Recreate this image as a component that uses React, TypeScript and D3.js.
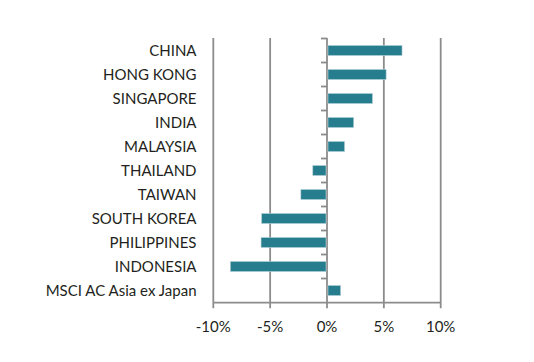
import React, { useRef, useEffect } from 'react';
import * as d3 from 'd3';

const categories = [
  'CHINA',
  'HONG KONG',
  'SINGAPORE',
  'INDIA',
  'MALAYSIA',
  'THAILAND',
  'TAIWAN',
  'SOUTH KOREA',
  'PHILIPPINES',
  'INDONESIA',
  'MSCI AC Asia ex Japan',
];

const returns = [6.6, 5.2, 4.0, 2.35, 1.55, -1.25, -2.3, -5.75, -5.8, -8.5, 1.2];

const xTicks = [-10, -5, 0, 5, 10];

const width = 534;
const height = 362;

const App: React.FC = () => {
  const svgRef = useRef<SVGSVGElement>(null);

  useEffect(() => {
    if (!svgRef.current) return;
    const svg = d3.select(svgRef.current);
    svg.selectAll('*').remove();

    const x = d3.scaleLinear().domain([-10, 10]).range([213.3, 440.7]);
    const y = d3.scaleBand<string>().domain(categories).range([38.5, 302.5]).paddingInner(0.58).paddingOuter(0.29);
    const band = d3.scaleBand<string>().domain(categories).range([38.5, 302.5]);

    const font = "Lato, 'Open Sans', sans-serif";
    const gridColor = '#8c8c8c';
    const axisY = 302.7;

    // vertical grid lines
    svg.append('g')
      .selectAll('line')
      .data(xTicks.filter(t => t !== 0))
      .enter().append('line')
      .attr('x1', d => x(d)).attr('x2', d => x(d))
      .attr('y1', 38).attr('y2', axisY + 5.5)
      .attr('stroke', gridColor)
      .attr('stroke-width', 1.8);

    // zero line + category separator ticks
    svg.append('line')
      .attr('x1', x(0)).attr('x2', x(0))
      .attr('y1', 38).attr('y2', axisY + 5.5)
      .attr('stroke', gridColor)
      .attr('stroke-width', 1.8);

    svg.append('g')
      .selectAll('line')
      .data(categories)
      .enter().append('line')
      .attr('x1', x(0) - 6).attr('x2', x(0))
      .attr('y1', d => band(d) as number).attr('y2', d => band(d) as number)
      .attr('stroke', gridColor)
      .attr('stroke-width', 1.8);

    // x axis line
    svg.append('line')
      .attr('x1', x(-10)).attr('x2', x(10))
      .attr('y1', axisY).attr('y2', axisY)
      .attr('stroke', gridColor)
      .attr('stroke-width', 1.8);

    // bars
    svg.append('g')
      .selectAll('rect')
      .data(categories)
      .enter().append('rect')
      .attr('x', (d, i) => Math.min(x(0), x(returns[i])) + (returns[i] > 0 ? 1 : 0))
      .attr('y', d => y(d) as number)
      .attr('width', (d, i) => Math.abs(x(returns[i]) - x(0)) - 1)
      .attr('height', y.bandwidth())
      .attr('fill', '#267d8e')
      .attr('stroke', '#b9d3d9')
      .attr('stroke-width', 0.6);

    // category labels
    svg.append('g')
      .selectAll('text')
      .data(categories)
      .enter().append('text')
      .attr('x', 196.5)
      .attr('y', d => (band(d) as number) + band.bandwidth() / 2)
      .attr('dy', '0.36em')
      .attr('text-anchor', 'end')
      .attr('font-family', font)
      .attr('font-size', 15)
      .attr('fill', '#231f20')
      .text(d => d);

    // x tick labels
    svg.append('g')
      .selectAll('text')
      .data(xTicks)
      .enter().append('text')
      .attr('x', d => x(d))
      .attr('y', 332)
      .attr('text-anchor', 'middle')
      .attr('font-family', font)
      .attr('font-size', 15)
      .attr('fill', '#231f20')
      .text(d => `${d}%`);
  }, []);

  return (
    <div>
      <svg
        ref={svgRef}
        width={width}
        height={height}
        style={{ position: 'absolute', left: 0, top: 0, background: '#fff' }}
      />
    </div>
  );
};

export default App;
